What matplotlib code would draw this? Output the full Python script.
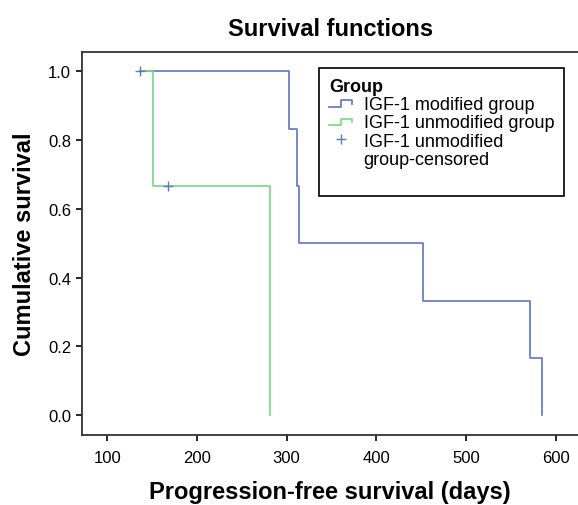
import matplotlib
matplotlib.use("Agg")
import matplotlib.pyplot as plt
from matplotlib.legend_handler import HandlerBase
from matplotlib.lines import Line2D

plt.rcParams["font.family"] = ["Liberation Sans", "DejaVu Sans"]

# Kaplan-Meier steps
modified_days = [136, 303, 312, 314, 452, 572, 585]
modified_surv = [1.0, 0.833, 0.667, 0.5, 0.333, 0.167, 0.0]

unmodified_days = [136, 151, 281]
unmodified_surv = [1.0, 0.667, 0.0]

censored_days = [136, 168]
censored_surv = [1.0, 0.667]

x_ticks = [100, 200, 300, 400, 500, 600]
y_ticks = [0.0, 0.2, 0.4, 0.6, 0.8, 1.0]

legend_labels = ["IGF-1 modified group", "IGF-1 unmodified group",
                 "IGF-1 unmodified", "group-censored", ""]

BLUE = "#5d74c8"
GREEN = "#72d982"


class StepHandler(HandlerBase):
    # small step glyph like the SPSS legend
    def create_artists(self, legend, orig_handle, xdescent, ydescent,
                       width, height, fontsize, trans):
        x0 = -xdescent
        y0 = -ydescent
        xs = [x0, x0 + 0.5 * width, x0 + 0.5 * width, x0 + 0.95 * width, x0 + 0.95 * width]
        ys = [y0 + 0.2 * height, y0 + 0.2 * height, y0 + 0.7 * height,
              y0 + 0.7 * height, y0 + 0.45 * height]
        line = Line2D(xs, ys, color=orig_handle.get_color(),
                      linewidth=orig_handle.get_linewidth(), transform=trans)
        return [line]


class BlankHandler(HandlerBase):
    def create_artists(self, legend, orig_handle, xdescent, ydescent,
                       width, height, fontsize, trans):
        return [Line2D([], [], visible=False, transform=trans)]


fig = plt.figure(figsize=(5.78, 5.06), dpi=100)
ax = fig.add_axes([0.1424, 0.1383, 0.8576, 0.7576])

blue_line, = ax.step(modified_days, modified_surv, where="post",
                     color=BLUE, linewidth=1.2)
green_line, = ax.step(unmodified_days, unmodified_surv, where="post",
                      color=GREEN, linewidth=1.2)
cens, = ax.plot(censored_days, censored_surv, linestyle="none", marker="+",
                markersize=7, markeredgewidth=1.0, color=BLUE)

ax.set_xlim(72, 625)
ax.set_ylim(-0.058, 1.057)
ax.set_xticks(x_ticks)
ax.set_yticks(y_ticks)
ax.set_yticklabels([f"{v:.1f}" for v in y_ticks])
ax.tick_params(direction="out", length=4.5, width=1.2, labelsize=12, colors="black")
ax.tick_params(axis="x", pad=6)

for side in ["left", "bottom", "top"]:
    ax.spines[side].set_linewidth(1.3)
    ax.spines[side].set_color("#333333")
ax.spines["right"].set_visible(False)

ax.set_title("Survival functions", fontsize=17, fontweight="bold", pad=12)
ax.set_xlabel("Progression-free survival (days)", fontsize=17, fontweight="bold", labelpad=11)
ax.set_ylabel("Cumulative survival", fontsize=17, fontweight="bold", labelpad=8.5)

blank1 = Line2D([], [])
blank2 = Line2D([], [])
leg = fig.legend(
    [blue_line, green_line, cens, blank1, blank2],
    legend_labels,
    handler_map={blue_line: StepHandler(), green_line: StepHandler(),
                 blank1: BlankHandler(), blank2: BlankHandler()},
    title="Group",
    loc="upper right",
    bbox_to_anchor=(564 / 578, (506 - 69) / 506),
    fontsize=13,
    title_fontsize=13,
    alignment="left",
    fancybox=False,
    framealpha=1,
    edgecolor="black",
    handlelength=1.3,
    handletextpad=0.6,
    labelspacing=0.07,
    borderpad=0.55,
    borderaxespad=0,
)
leg.get_title().set_fontweight("bold")
leg.get_frame().set_linewidth(1.2)

fig.savefig("out.png", dpi=100)
